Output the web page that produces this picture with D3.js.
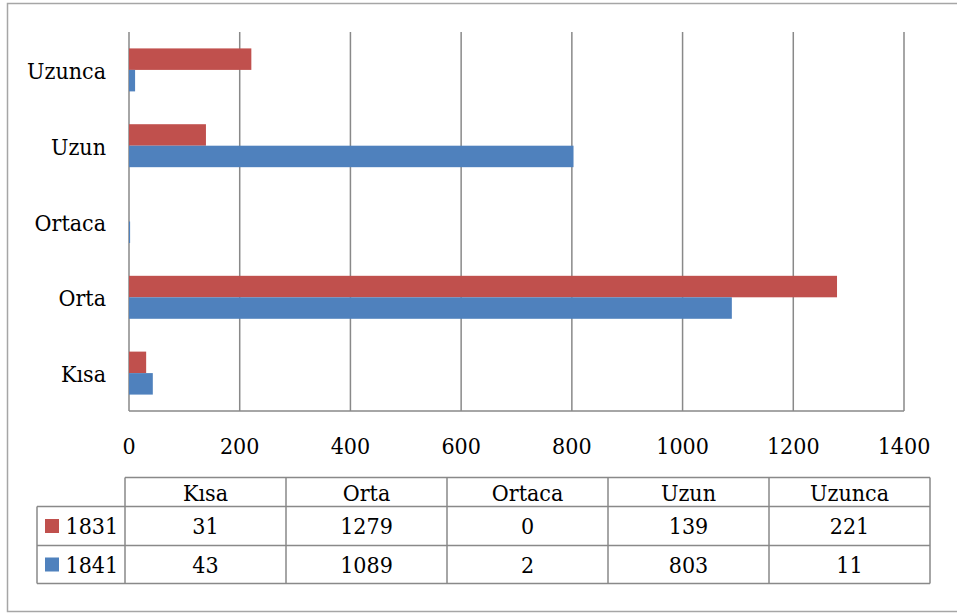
<!DOCTYPE html>
<html>
<head>
  <meta charset="utf-8">
  <title>Kısa / Orta / Uzun 1831-1841</title>
  <script src="https://d3js.org/d3.v7.min.js"></script>
  <style>
    body { margin: 0; background: #fff; }
    svg text { font-stretch: condensed; }
  </style>
</head>
<body>
  <svg id="chart"></svg>

  <script>
    // data
    var categories = ["Kısa", "Orta", "Ortaca", "Uzun", "Uzunca"];
    var seriesNames = ["1831", "1841"];
    var values1831 = [31, 1279, 0, 139, 221];
    var values1841 = [43, 1089, 2, 803, 11];
    var xTicks = [0, 200, 400, 600, 800, 1000, 1200, 1400];

    var colors = { "1831": "#C0504D", "1841": "#4F81BD" };
    var gridColor = "#898989";
    var fontSize = 23;

    var width = 957, height = 613;
    var svg = d3.select("#chart")
                .attr("width", width).attr("height", height)
                .attr("font-family", "'DejaVu Serif Condensed', 'DejaVu Serif', serif");

    // outer chart border
    svg.append("rect")
       .attr("x", 7.5).attr("y", 3.5)
       .attr("width", 965).attr("height", 608)
       .attr("fill", "none").attr("stroke", "#a6a6a6").attr("stroke-width", 1.5);

    var plot = { left: 129, right: 904, top: 32, bottom: 411 };

    var x = d3.scaleLinear().domain([0, 1400]).range([plot.left, plot.right]);
    // top to bottom: Uzunca ... Kısa
    var y = d3.scaleBand()
              .domain(categories.slice().reverse())
              .range([plot.top, plot.bottom])
              .paddingInner(0.433)
              .paddingOuter(0.2165);
    var ySub = d3.scaleBand().domain(seriesNames).range([0, y.bandwidth()]);

    // vertical gridlines
    svg.append("g")
       .selectAll("line")
       .data(xTicks)
       .enter().append("line")
       .attr("x1", d => x(d)).attr("x2", d => x(d))
       .attr("y1", plot.top).attr("y2", plot.bottom)
       .attr("stroke", gridColor).attr("stroke-width", 1.5);

    // bottom axis line
    svg.append("line")
       .attr("x1", plot.left).attr("x2", plot.right)
       .attr("y1", plot.bottom).attr("y2", plot.bottom)
       .attr("stroke", gridColor).attr("stroke-width", 1.5);

    // bars
    var rows = categories.map(function(c, i) {
      return { cat: c, vals: [
        { s: "1831", v: values1831[i] },
        { s: "1841", v: values1841[i] }
      ] };
    });

    var groups = svg.append("g")
       .selectAll("g")
       .data(rows)
       .enter().append("g")
       .attr("transform", d => "translate(0," + y(d.cat) + ")");

    groups.selectAll("rect")
       .data(d => d.vals)
       .enter().append("rect")
       .attr("x", x(0))
       .attr("y", d => ySub(d.s))
       .attr("width", d => x(d.v) - x(0))
       .attr("height", ySub.bandwidth())
       .attr("fill", d => colors[d.s]);

    // category labels
    svg.append("g")
       .selectAll("text")
       .data(categories)
       .enter().append("text")
       .attr("x", plot.left - 23)
       .attr("y", d => y(d) + y.bandwidth() / 2 + 9)
       .attr("text-anchor", "end")
       .attr("font-size", fontSize)
       .text(d => d);

    // value tick labels
    svg.append("g")
       .selectAll("text")
       .data(xTicks)
       .enter().append("text")
       .attr("x", d => x(d))
       .attr("y", 454)
       .attr("text-anchor", "middle")
       .attr("font-size", fontSize)
       .text(d => d);

    // data table
    var colX = d3.scaleBand().domain(categories).range([125, 930]);
    var rowY = [477.5, 506.5, 545.5, 583.5];
    var tableLeft = 37;
    var tbl = svg.append("g").attr("stroke", gridColor).attr("stroke-width", 1.5).attr("fill", "none");

    // horizontal lines
    tbl.append("line").attr("x1", 125).attr("x2", 930).attr("y1", rowY[0]).attr("y2", rowY[0]);
    rowY.slice(1).forEach(function(yy) {
      tbl.append("line").attr("x1", tableLeft).attr("x2", 930).attr("y1", yy).attr("y2", yy);
    });
    // vertical lines
    tbl.append("line").attr("x1", tableLeft).attr("x2", tableLeft).attr("y1", rowY[1]).attr("y2", rowY[3]);
    categories.concat(["_end"]).forEach(function(c) {
      var xx = c === "_end" ? 930 : colX(c);
      tbl.append("line").attr("x1", xx).attr("x2", xx).attr("y1", rowY[0]).attr("y2", rowY[3]);
    });

    // header text
    svg.append("g")
       .selectAll("text")
       .data(categories)
       .enter().append("text")
       .attr("x", d => colX(d) + colX.bandwidth() / 2)
       .attr("y", 500.5)
       .attr("text-anchor", "middle")
       .attr("font-size", fontSize)
       .text(d => d);

    // series rows
    var seriesRows = [
      { name: "1831", vals: values1831, base: 534 },
      { name: "1841", vals: values1841, base: 572.5 }
    ];
    seriesRows.forEach(function(r, i) {
      var mid = (rowY[i + 1] + rowY[i + 2]) / 2;
      svg.append("rect")
         .attr("x", 45).attr("y", mid - 7)
         .attr("width", 14).attr("height", 14)
         .attr("fill", colors[r.name]);
      svg.append("text")
         .attr("x", 65.5).attr("y", r.base)
         .attr("font-size", fontSize)
         .text(r.name);
      svg.append("g")
         .selectAll("text")
         .data(r.vals)
         .enter().append("text")
         .attr("x", (d, j) => colX(categories[j]) + colX.bandwidth() / 2)
         .attr("y", r.base)
         .attr("text-anchor", "middle")
         .attr("font-size", fontSize)
         .text(d => d);
    });
  </script>
</body>
</html>
